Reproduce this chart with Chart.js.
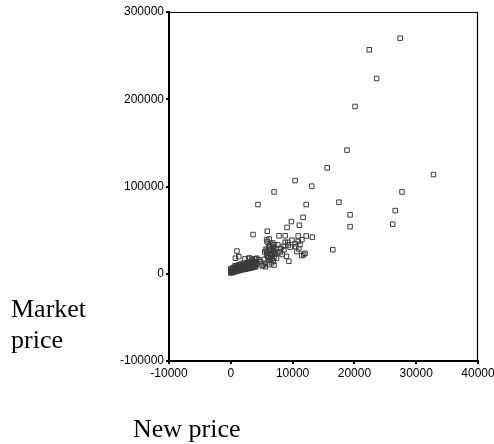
<!DOCTYPE html>
<html>
<head>
<meta charset="utf-8">
<script src="https://cdn.jsdelivr.net/npm/chart.js@4/dist/chart.umd.min.js"></script>
<style>
  body { margin: 0; background: #fff; }
</style>
</head>
<body>
<canvas id="scatter-chart" width="494" height="444"></canvas>
<script>
// new price (x) and market price (y)
const newPrice = [
  27400, 22400, 23600, 20100, 18800, 15600, 32800, 10400, 13100, 7000, 27700, 4400,
  12200, 17500, 26600, 11700, 19300, 9800, 9100, 11100, 19300, 26200, 3600, 5900,
  7800, 8800, 10900, 12200, 13200, 5800, 6200, 6800, 16500, 1000,
  8800, 9300, 9900, 10400, 10900, 11500, 11200, 8100, 8600, 9600, 10500, 11000,
  10700, 11500, 12000, 11800, 9400, 8300, 7600, 9000,
  5900, 6500, 7000, 6100, 6800, 7300, 5700, 6300, 6900, 5500, 6000, 6600,
  7200, 5800, 6400, 7000, 6100, 6700, 7400, 5400, 6200, 6900, 5300, 6200,
  7000, 5600, 6600,
  6300, 6900, 5800, 6500, 7100, 6000, 6700, 6400, 7600, 8000, 8500, 9200,
  1300, 750, 2300, 2900, 3400, 4000, 4500, 4200, 3100, 4800, 5100, 5600,
  0, 100, 50, 200, 0, 300, 250, 350, 500, 600, 450, 700,
  550, 800, 900, 750, 1000, 1100, 950, 1200, 1050, 1300, 1400, 1250,
  1500, 1600, 1550, 1700, 1800, 1900, 1750, 2000, 2100, 2200, 2050, 2300,
  2400, 2500, 2450, 2600, 2700, 2800, 2750, 2900, 3000, 3100, 3050, 3200,
  3300, 3400, 3350, 3500, 3600, 3700, 3650, 3800, 3900, 4000, 3950, 4100,
  150, 400, 650, 300, 850, 1150, 600, 1450, 900, 1650, 1350, 1950,
  1700, 2250, 2000, 2550, 2350, 2850, 2650, 3150, 2950, 3450, 3250, 3750,
  3550, 4050, 3850, 4300, 400, 1000, 1600, 2200, 2800, 3400, 700, 1300
];
const marketPrice = [
  270000, 256700, 223800, 191700, 141700, 121400, 113700, 106800, 100400, 93800, 93800, 79300,
  79300, 82000, 72400, 64600, 67500, 59800, 53100, 55600, 54000, 56800, 44900, 48700,
  43500, 43500, 43300, 43300, 42000, 38800, 39800, 35300, 27600, 26000,
  36000, 33000, 38500, 34500, 37000, 39000, 33500, 29000, 27500, 30500, 31000, 28500,
  25400, 20800, 23500, 22000, 14300, 22000, 24000, 20000,
  36500, 34000, 33000, 31000, 30000, 29000, 28000, 27000, 26500, 25000, 24000, 23500,
  22500, 21500, 20500, 20000, 18500, 17500, 18000, 16500, 15500, 14500, 10000, 10500,
  10000, 12000, 12500,
  32000, 28000, 26000, 22000, 25500, 19000, 21000, 16500, 33000, 25000, 31500, 36000,
  19600, 17800, 17000, 18000, 16500, 17200, 16000, 17800, 17800, 14000, 9000, 8000,
  900, 2200, 3600, 4800, 6000, 1500, 3000, 5500, 1800, 3200, 4200, 6200,
  7000, 2600, 4000, 5200, 3000, 4600, 6300, 7800, 8200, 3500, 5200, 6800,
  4000, 5800, 7400, 9000, 4600, 6400, 8200, 9800, 4800, 6600, 8500, 10200,
  5300, 7100, 9000, 11000, 5800, 7600, 9600, 11800, 6200, 8200, 10000, 12400,
  6800, 8800, 10800, 13000, 7200, 9200, 11400, 13600, 7800, 10000, 12200, 14200,
  1600, 2800, 3900, 5200, 3400, 5600, 7400, 4300, 9000, 6100, 9600, 7300,
  11000, 5600, 12000, 8000, 6200, 9800, 12600, 7000, 13400, 8600, 11800, 10400,
  14800, 8400, 12800, 11600, 6800, 7200, 8000, 8800, 9400, 11000, 9200, 10600
];
const xTicks = [-10000, 0, 10000, 20000, 30000, 40000];
const yTicks = [-100000, 0, 100000, 200000, 300000];

const points = [];
for (let i = 0; i < newPrice.length; i++) {
  points.push({ x: newPrice[i], y: marketPrice[i] });
}

// box lines on top/right plus the two serif axis titles
const framePlugin = {
  id: 'frame',
  afterDraw(chart) {
    const ctx = chart.ctx;
    const a = chart.chartArea;
    ctx.save();
    ctx.strokeStyle = '#000';
    ctx.lineWidth = 1.2;
    ctx.beginPath();
    ctx.moveTo(a.left, a.top + 0.5);
    ctx.lineTo(a.right - 0.5, a.top + 0.5);
    ctx.lineTo(a.right - 0.5, a.bottom);
    ctx.stroke();
    ctx.fillStyle = '#000';
    ctx.font = '26px "Liberation Serif", "Times New Roman", serif';
    ctx.textBaseline = 'alphabetic';
    ctx.fillText('Market', 11, 317);
    ctx.fillText('price', 11, 348);
    ctx.fillText('New price', 133, 437);
    ctx.restore();
  }
};

const tickFont = { family: '"Liberation Sans", Arial, sans-serif', size: 12 };

const ctx = document.getElementById('scatter-chart').getContext('2d');
new Chart(ctx, {
  type: 'scatter',
  data: {
    datasets: [{
      label: 'Market price',
      data: points,
      pointStyle: 'rect',
      pointRadius: 3.2,
      pointBorderWidth: 1,
      pointBorderColor: '#3c3c3c',
      pointBackgroundColor: 'rgba(255,255,255,0)'
    }]
  },
  options: {
    responsive: false,
    animation: false,
    layout: { padding: { top: 12, right: 16, left: 0, bottom: 0 } },
    plugins: {
      legend: { display: false },
      tooltip: { enabled: false }
    },
    scales: {
      x: {
        type: 'linear',
        min: -10000,
        max: 40000,
        afterBuildTicks: s => { s.ticks = xTicks.map(v => ({ value: v })); },
        afterFit: s => { s.height = 83; s.paddingLeft = 0; s.paddingRight = 0; },
        ticks: {
          color: '#000',
          font: tickFont,
          padding: 2,
          maxRotation: 0,
          autoSkip: false,
          callback: v => String(v)
        },
        grid: { drawOnChartArea: false, drawTicks: true, tickLength: 3, color: '#000', lineWidth: 2 },
        border: { display: true, color: '#000', width: 2 }
      },
      y: {
        type: 'linear',
        min: -100000,
        max: 300000,
        afterBuildTicks: s => { s.ticks = yTicks.map(v => ({ value: v })); },
        afterFit: s => { s.width = 169; s.paddingTop = 0; s.paddingBottom = 0; },
        ticks: {
          color: '#000',
          font: tickFont,
          padding: 2,
          autoSkip: false,
          callback: v => String(v)
        },
        grid: { drawOnChartArea: false, drawTicks: true, tickLength: 3, color: '#000', lineWidth: 2 },
        border: { display: true, color: '#000', width: 2 }
      }
    }
  },
  plugins: [framePlugin]
});
</script>
</body>
</html>
